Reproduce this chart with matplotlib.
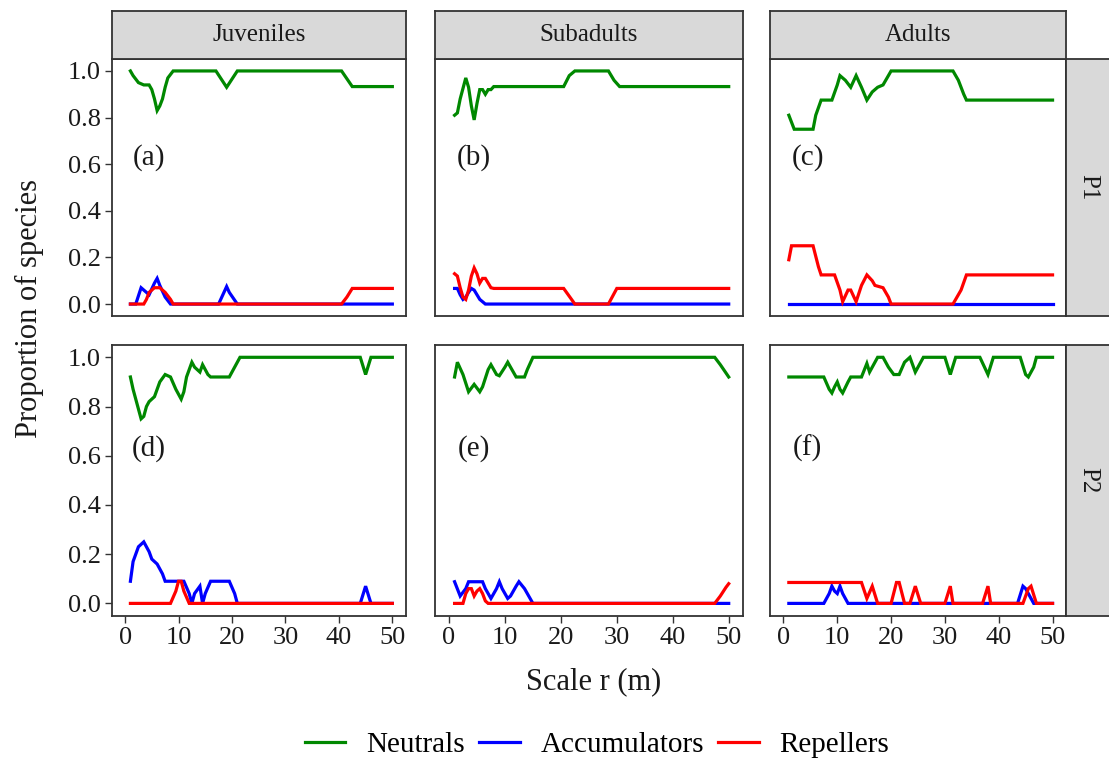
import matplotlib
matplotlib.use("Agg")
import matplotlib.pyplot as plt
from matplotlib.lines import Line2D

plt.rcParams.update({
    "font.family": ["Liberation Serif", "DejaVu Serif"],
    "font.size": 19,
    "xtick.labelsize": 19,
    "ytick.labelsize": 19,
})

GREEN, BLUE, RED = "#008800", "#0000FF", "#FF0000"

# ---- data: scale r (m) and proportion of species per group ----
# P1 / Juveniles
juv_p1_neu_r = [1, 1.5, 2.5, 3.5, 4.5, 5.0, 5.5, 6.0, 6.5, 7.0, 7.5, 8.0, 9.0, 17.0, 19.0, 21.0, 40.5, 42.5, 50]
juv_p1_neu = [1.0, 0.98, 0.95, 0.94, 0.94, 0.92, 0.88, 0.83, 0.85, 0.88, 0.93, 0.97, 1.0, 1.0, 0.93, 1.0, 1.0, 0.933, 0.933]
juv_p1_acc_r = [1, 2.0, 3.0, 4.0, 4.5, 5.5, 6.0, 6.5, 7.5, 8.5, 17.5, 18.5, 19.0, 19.5, 21.0, 50]
juv_p1_acc = [0, 0, 0.07, 0.05, 0.04, 0.09, 0.11, 0.08, 0.03, 0, 0, 0.05, 0.075, 0.05, 0, 0]
juv_p1_rep_r = [1, 3.5, 4.0, 4.5, 5.5, 6.5, 7.5, 8.5, 9.0, 40.5, 41.5, 42.5, 50]
juv_p1_rep = [0, 0, 0.02, 0.05, 0.07, 0.07, 0.05, 0.02, 0, 0, 0.03, 0.067, 0.067]

# P1 / Subadults
sub_p1_neu_r = [1, 1.5, 2.0, 3.0, 3.5, 4.0, 4.5, 5.0, 5.5, 6.0, 6.5, 7.0, 7.5, 8.0, 20.5, 21.5, 22.5, 28.5, 29.5, 30.5, 50]
sub_p1_neu = [0.81, 0.82, 0.88, 0.97, 0.93, 0.85, 0.79, 0.86, 0.92, 0.92, 0.90, 0.92, 0.92, 0.933, 0.933, 0.98, 1.0, 1.0, 0.96, 0.933, 0.933]
sub_p1_acc_r = [1, 1.5, 2.0, 2.5, 3.0, 3.5, 4.0, 4.5, 5.0, 5.5, 6.0, 6.5, 50]
sub_p1_acc = [0.067, 0.067, 0.04, 0.02, 0.03, 0.05, 0.067, 0.06, 0.04, 0.02, 0.01, 0, 0]
sub_p1_rep_r = [1, 1.5, 2.0, 2.5, 3.0, 3.5, 4.0, 4.5, 5.0, 5.5, 6.0, 6.5, 7.0, 7.5, 8.0, 20.5, 22.5, 28.5, 30.0, 50]
sub_p1_rep = [0.13, 0.12, 0.07, 0.03, 0.02, 0.06, 0.12, 0.155, 0.13, 0.09, 0.11, 0.11, 0.09, 0.07, 0.067, 0.067, 0, 0, 0.067, 0.067]

# P1 / Adults
adu_p1_neu_r = [1, 1.5, 2.0, 5.5, 6.0, 7.0, 9.0, 10.0, 10.5, 11.5, 12.5, 13.5, 14.5, 15.5, 16.5, 17.5, 18.5, 19.5, 20.0, 31.5, 32.5, 33.5, 34.0, 50]
adu_p1_neu = [0.81, 0.78, 0.75, 0.75, 0.81, 0.875, 0.875, 0.94, 0.98, 0.96, 0.93, 0.98, 0.93, 0.875, 0.91, 0.93, 0.94, 0.98, 1.0, 1.0, 0.96, 0.9, 0.875, 0.875]
adu_p1_acc_r = [1, 50]
adu_p1_acc = [0, 0]
adu_p1_rep_r = [1, 1.5, 5.5, 6.5, 7.0, 9.5, 10.5, 11.0, 12.0, 12.5, 13.5, 14.5, 15.5, 16.5, 17.0, 18.5, 19.5, 20.0, 31.5, 33.0, 34.0, 50]
adu_p1_rep = [0.19, 0.25, 0.25, 0.16, 0.125, 0.125, 0.06, 0.01, 0.06, 0.06, 0.01, 0.08, 0.125, 0.1, 0.08, 0.07, 0.03, 0, 0, 0.06, 0.125, 0.125]

# P2 / Juveniles
juv_p2_neu_r = [1, 1.5, 2.5, 3.0, 3.5, 4.0, 4.5, 5.5, 6.5, 7.5, 8.5, 9.5, 10.5, 11.0, 11.5, 12.5, 13.0, 14.0, 14.5, 15.5, 16.0, 19.5, 20.5, 21.5, 44.0, 45.0, 46.0, 50]
juv_p2_neu = [0.92, 0.87, 0.79, 0.75, 0.76, 0.80, 0.82, 0.84, 0.90, 0.93, 0.92, 0.87, 0.83, 0.86, 0.92, 0.98, 0.96, 0.94, 0.97, 0.93, 0.92, 0.92, 0.96, 1.0, 1.0, 0.93, 1.0, 1.0]
juv_p2_acc_r = [1, 1.5, 2.5, 3.5, 4.5, 5.0, 6.0, 7.0, 7.5, 11.0, 12.0, 12.5, 13.0, 14.0, 14.5, 15.0, 16.0, 19.5, 20.5, 21.0, 44.0, 45.0, 46.0, 50]
juv_p2_acc = [0.09, 0.17, 0.23, 0.25, 0.21, 0.18, 0.16, 0.12, 0.09, 0.09, 0.04, 0.0, 0.04, 0.07, 0.0, 0.04, 0.09, 0.09, 0.04, 0, 0, 0.07, 0, 0]
juv_p2_rep_r = [1, 8.5, 9.5, 10.0, 10.5, 11.0, 12.0, 50]
juv_p2_rep = [0, 0, 0.05, 0.09, 0.09, 0.05, 0, 0]

# P2 / Subadults
sub_p2_neu_r = [1, 1.5, 2.5, 3.5, 4.5, 5.5, 6.0, 7.0, 7.5, 8.5, 9.0, 10.0, 10.5, 11.5, 12.0, 13.5, 14.0, 15.0, 47.5, 48.5, 50]
sub_p2_neu = [0.92, 0.98, 0.93, 0.86, 0.89, 0.86, 0.88, 0.95, 0.97, 0.93, 0.925, 0.96, 0.98, 0.94, 0.92, 0.92, 0.95, 1.0, 1.0, 0.97, 0.92]
sub_p2_acc_r = [1, 2.0, 3.0, 3.5, 6.0, 6.5, 7.5, 8.5, 9.0, 9.5, 10.5, 11.0, 12.0, 12.5, 13.5, 14.5, 15.0, 50]
sub_p2_acc = [0.088, 0.03, 0.06, 0.088, 0.088, 0.06, 0.02, 0.06, 0.088, 0.06, 0.02, 0.03, 0.07, 0.088, 0.06, 0.02, 0, 0]
sub_p2_rep_r = [1, 2.5, 3.0, 3.5, 4.0, 4.5, 5.0, 5.5, 6.0, 6.5, 7.0, 47.5, 48.5, 49.5, 50]
sub_p2_rep = [0, 0, 0.04, 0.06, 0.06, 0.03, 0.05, 0.06, 0.04, 0.01, 0, 0, 0.03, 0.065, 0.08]

# P2 / Adults
adu_p2_neu_r = [1, 7.5, 8.5, 9.0, 9.5, 10.0, 10.5, 11.0, 12.0, 12.5, 14.5, 15.5, 16.0, 16.5, 17.5, 18.5, 19.5, 20.5, 21.5, 22.5, 23.5, 24.5, 25.5, 26.0, 30.0, 31.0, 32.0, 36.5, 38.0, 39.0, 44.0, 45.0, 45.5, 46.5, 47.0, 50]
adu_p2_neu = [0.92, 0.92, 0.87, 0.855, 0.88, 0.9, 0.87, 0.855, 0.9, 0.92, 0.92, 0.975, 0.94, 0.96, 1.0, 1.0, 0.96, 0.93, 0.93, 0.98, 1.0, 0.94, 0.98, 1.0, 1.0, 0.93, 1.0, 1.0, 0.93, 1.0, 1.0, 0.93, 0.92, 0.96, 1.0, 1.0]
adu_p2_acc_r = [1, 7.5, 8.5, 9.0, 9.5, 10.0, 10.5, 11.0, 12.0, 43.5, 44.5, 45.0, 46.0, 46.5, 50]
adu_p2_acc = [0, 0, 0.04, 0.07, 0.05, 0.04, 0.07, 0.04, 0, 0, 0.07, 0.06, 0.02, 0, 0]
adu_p2_rep_r = [1, 14.5, 15.5, 16.5, 17.5, 20.0, 21.0, 21.5, 22.5, 23.5, 24.5, 25.5, 30.0, 31.0, 31.5, 37.0, 38.0, 38.5, 44.5, 45.5, 46.0, 47.0, 50]
adu_p2_rep = [0.085, 0.085, 0.02, 0.07, 0, 0, 0.085, 0.085, 0, 0, 0.07, 0, 0, 0.07, 0, 0, 0.07, 0, 0, 0.06, 0.07, 0, 0]

stages = ["Juveniles", "Subadults", "Adults"]
plots = ["P1", "P2"]
panel_tags = [["(a)", "(b)", "(c)"], ["(d)", "(e)", "(f)"]]
x_ticks = [0, 10, 20, 30, 40, 50]
y_ticks = [0.0, 0.2, 0.4, 0.6, 0.8, 1.0]

panels = [
    [
        ((juv_p1_neu_r, juv_p1_neu), (juv_p1_acc_r, juv_p1_acc), (juv_p1_rep_r, juv_p1_rep)),
        ((sub_p1_neu_r, sub_p1_neu), (sub_p1_acc_r, sub_p1_acc), (sub_p1_rep_r, sub_p1_rep)),
        ((adu_p1_neu_r, adu_p1_neu), (adu_p1_acc_r, adu_p1_acc), (adu_p1_rep_r, adu_p1_rep)),
    ],
    [
        ((juv_p2_neu_r, juv_p2_neu), (juv_p2_acc_r, juv_p2_acc), (juv_p2_rep_r, juv_p2_rep)),
        ((sub_p2_neu_r, sub_p2_neu), (sub_p2_acc_r, sub_p2_acc), (sub_p2_rep_r, sub_p2_rep)),
        ((adu_p2_neu_r, adu_p2_neu), (adu_p2_acc_r, adu_p2_acc), (adu_p2_rep_r, adu_p2_rep)),
    ],
]

# ---- layout (pixel boxes) ----
W, H = 1109, 763
fig = plt.figure(figsize=(W / 100, H / 100), dpi=100)

col_px = [(111.7, 405.7), (435.0, 742.7), (770.0, 1066.0)]
row_px = [(59.3, 315.7), (345.0, 615.7)]
BORDER = "#333333"
STRIP = "#D9D9D9"
TEXT = "#1A1A1A"


def px_box(x0, x1, y0, y1):
    return [x0 / W, 1 - y1 / H, (x1 - x0) / W, (y1 - y0) / H]


def strip(x0, x1, y0, y1, label, rotation=0):
    sax = fig.add_axes(px_box(x0, x1, y0, y1))
    sax.set_facecolor(STRIP)
    sax.set_xticks([])
    sax.set_yticks([])
    for s in sax.spines.values():
        s.set_color(BORDER)
        s.set_linewidth(1.3)
    sax.text(0.5 if rotation == 0 else 0.44, 0.5, label, transform=sax.transAxes,
             ha="center", va="center", rotation=rotation, fontsize=18, color=TEXT)
    return sax


for i, (ry0, ry1) in enumerate(row_px):
    for j, (cx0, cx1) in enumerate(col_px):
        ax = fig.add_axes(px_box(cx0, cx1, ry0, ry1))
        neu, acc, rep = panels[i][j]
        ax.plot(*neu, color=GREEN, lw=2.3, solid_joinstyle="miter")
        ax.plot(*acc, color=BLUE, lw=2.3, solid_joinstyle="miter")
        ax.plot(*rep, color=RED, lw=2.3, solid_joinstyle="miter")
        ax.text(4.5, 0.63, panel_tags[i][j], ha="center", va="center", fontsize=21, color=TEXT)
        ax.set_xlim(-2.5, 52.5)
        ax.set_ylim(-0.05, 1.05)
        ax.set_xticks(x_ticks)
        ax.set_yticks(y_ticks)
        ax.yaxis.set_major_formatter(plt.FormatStrFormatter("%.1f"))
        ax.tick_params(length=5, width=1.0, color=BORDER, labelcolor=TEXT, pad=3)
        if j > 0:
            ax.tick_params(axis="y", left=False, labelleft=False)
        if i == 0:
            ax.tick_params(axis="x", bottom=False, labelbottom=False)
        for s in ax.spines.values():
            s.set_color(BORDER)
            s.set_linewidth(1.3)

# facet strips
for j, (cx0, cx1) in enumerate(col_px):
    strip(cx0, cx1, 11, 59.3, stages[j])
for i, (ry0, ry1) in enumerate(row_px):
    strip(1066.0, 1116.0, ry0, ry1, plots[i], rotation=-90)

fig.text(594 / W, 1 - 682 / H, "Scale r (m)", ha="center", va="center", fontsize=22, color=TEXT)
fig.text(29 / W, 1 - 308 / H, "Proportion of species", ha="center", va="center",
         rotation=90, fontsize=22, color=TEXT)

handles = [
    Line2D([], [], color=GREEN, lw=2.3, label="Neutrals"),
    Line2D([], [], color=BLUE, lw=2.3, label="Accumulators"),
    Line2D([], [], color=RED, lw=2.3, label="Repellers"),
]
fig.legend(handles=handles, loc="center", bbox_to_anchor=(597 / W, 1 - 745 / H), ncol=3,
           frameon=False, fontsize=21, handlelength=1.4, columnspacing=0.5, handletextpad=0.7)

fig.savefig("out.png", dpi=100)
